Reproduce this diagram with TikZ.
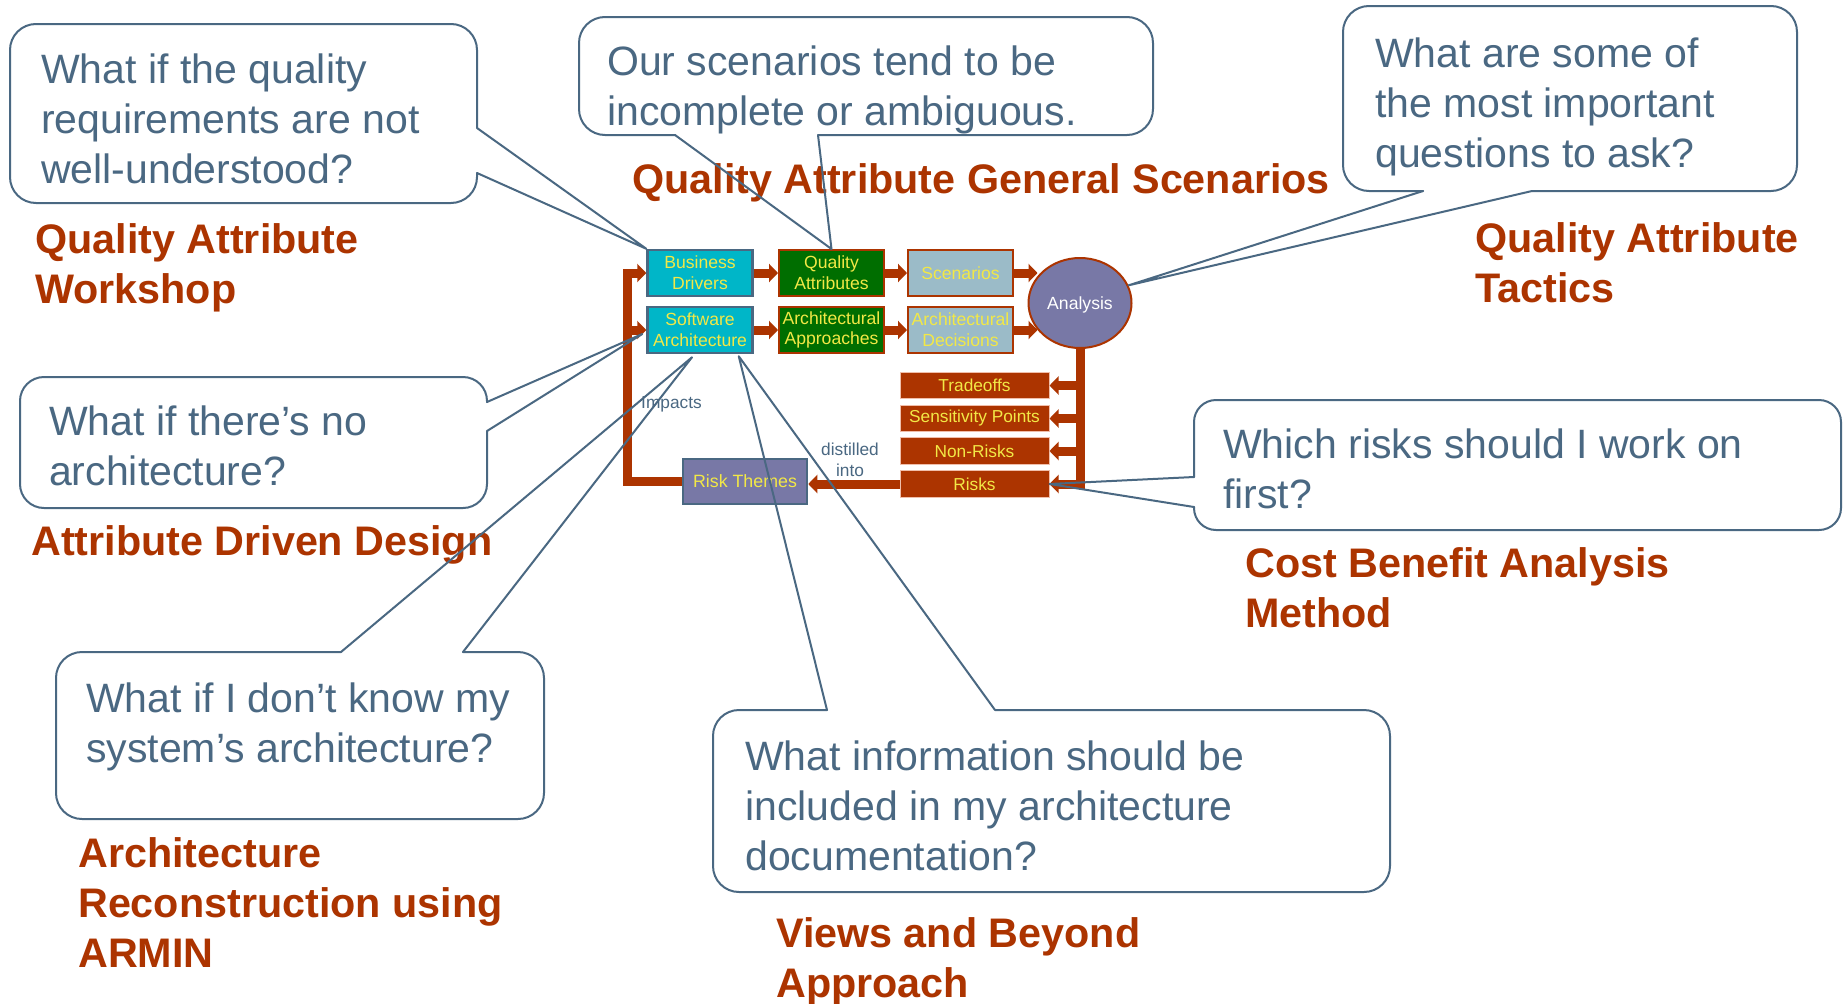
\documentclass[tikz,border=0pt]{standalone}
\usepackage{fontspec}
\setmainfont{Liberation Sans}
\usetikzlibrary{arrows.meta,shapes.geometric,calc}
\definecolor{rust}{RGB}{172,52,0}
\definecolor{cgray}{RGB}{74,104,130}
\definecolor{ccyan}{RGB}{0,182,200}
\definecolor{cgreen}{RGB}{0,110,0}
\definecolor{cpale}{RGB}{155,187,200}
\definecolor{cpurple}{RGB}{120,120,166}
\definecolor{cyel}{RGB}{242,232,70}
\definecolor{cpink}{RGB}{240,190,170}
\tikzset{
  callout/.style={draw=cgray, line width=2pt, line join=round, line cap=round},
  bubblebody/.style={callout, rounded corners=#1},
  bubblebody/.default=26pt,
  qtext/.style={anchor=base west, align=left, inner sep=0pt, text=cgray, font=\fontsize{41}{50}\selectfont},
  ttext/.style={anchor=base west, align=left, inner sep=0pt, text=rust, font=\bfseries\fontsize{41.3}{50}\selectfont},
  boxbase/.style={rectangle, inner sep=0pt, align=center, text=cyel, font=\fontsize{17.6}{20.7}\selectfont, minimum width=105pt, minimum height=46pt},
  bluebox/.style={boxbase, fill=ccyan, draw=cgray, line width=2.5pt},
  greenbox/.style={boxbase, fill=cgreen, draw=rust, line width=2pt},
  palebox/.style={boxbase, fill=cpale, draw=rust, line width=2pt},
  redbox/.style={boxbase, fill=rust, draw=cpink, line width=1pt, minimum width=149pt, minimum height=26.5pt, font=\fontsize{17.3}{20}\selectfont},
  themebox/.style={boxbase, fill=cpurple, draw=cgray, line width=2.5pt, minimum width=124pt, minimum height=45pt, font=\fontsize{17.8}{20}\selectfont},
  bigarrow/.style={draw=rust, line width=9pt, -{Triangle[width=18pt,length=9pt]}},
  smalllabel/.style={inner sep=0pt, text=cgray, font=\fontsize{17.3}{21}\selectfont, align=center}
}
\begin{document}
\begin{tikzpicture}[x=1pt,y=-1pt]
\useasboundingbox (0,0) rectangle (1845,1004);
\fill[white] (0,0) rectangle (1845,1004);

% ---------- central diagram ----------
\node[bluebox]  (bd) at (700,273)   {Business\\Drivers};
\node[bluebox]  (sa) at (700,330)   {Software\\Architecture};
\node[greenbox] (qa) at (831.5,273) {Quality\\Attributes};
\node[greenbox] (aa) at (831.5,330) {Architectural\\Approaches};
\node[palebox]  (sc) at (960.5,273) {Scenarios};
\node[palebox]  (ad) at (960.5,330) {Architectural\\Decisions};
\node[ellipse, fill=cpurple, draw=rust, line width=2pt, minimum width=103pt, minimum height=90pt, inner sep=0pt, text=white, text height=12.6pt, text depth=0pt, font=\fontsize{17.6}{20}\selectfont] (an) at (1080,303) {Analysis};
\node[redbox] (to) at (974.5,385.5) {Tradeoffs};
\node[redbox] (sp) at (974.5,418.5) {Sensitivity Points};
\node[redbox] (nr) at (974.5,451)   {Non-Risks};
\node[redbox] (ri) at (974.5,484)   {Risks};
\node[themebox] (rt) at (745,481.5) {Risk Themes};
\coordinate (lb) at (627,0);

\draw[bigarrow] (bd.east) -- (qa.west);
\draw[bigarrow] (qa.east) -- (sc.west);
\draw[bigarrow, shorten >=-10pt] (sc.east) -- (sc.east -| an.west);
\draw[bigarrow] (sa.east) -- (aa.west);
\draw[bigarrow] (aa.east) -- (ad.west);
\draw[bigarrow, shorten >=-10pt] (ad.east) -- (ad.east -| an.west);
\draw[bigarrow] (an.south) |- (ri.east);
\draw[bigarrow] (an.south |- to.east) -- (to.east);
\draw[bigarrow] (an.south |- sp.east) -- (sp.east);
\draw[bigarrow] (an.south |- nr.east) -- (nr.east);
\draw[bigarrow] (ri.west) -- (ri.west -| rt.east);
\draw[bigarrow] (rt.west) -- (rt.west -| lb) |- (bd.west);
\draw[bigarrow] (lb |- sa.west) -- (sa.west);

\node[smalllabel, anchor=base west] (imp) at (641,408) {Impacts};
\node[smalllabel, anchor=base] (dist) at (850,476) {distilled\\into};

% ---------- titles (anchor = baseline of last line) ----------
\node[ttext] (tA) at (35,303)   {Quality Attribute\\Workshop};
\node[ttext] (tB) at (632,193)  {Quality Attribute General Scenarios};
\node[ttext] (tC) at (1475,302) {Quality Attribute\\Tactics};
\node[ttext] (tD) at (31,555)   {Attribute Driven Design};
\node[ttext] (tE) at (78,967)   {Architecture\\Reconstruction using\\ARMIN};
\node[ttext] (tF) at (776,997)  {Views and Beyond\\Approach};
\node[ttext] (tG) at (1245,627) {Cost Benefit Analysis\\Method};

% ---------- callout bubbles ----------
% A
\draw[bubblebody] (477,128) -- (477,24) -- (10,24) -- (10,203) -- (477,203) -- (477,173);
\draw[callout] (477,128) -- (bd.north west) -- (477,173);
\node[qtext] (qA) at (41,183) {What if the quality\\requirements are not\\well-understood?};
% B
\draw[bubblebody] (675,135) -- (579,135) -- (579,17) -- (1153,17) -- (1153,135) -- (818,135);
\draw[callout] (675,135) -- (qa.north) -- (818,135);
\node[qtext] (qB) at (607,125) {Our scenarios tend to be\\incomplete or ambiguous.};
% C
\draw[bubblebody] (1423,191) -- (1343,191) -- (1343,6) -- (1797,6) -- (1797,191) -- (1532,191);
\draw[callout] (1423,191) -- (an.20) -- (1532,191);
\node[qtext] (qC) at (1375,167) {What are some of\\the most important\\questions to ask?};
% D
\draw[bubblebody=24pt] (487,402) -- (487,377) -- (20,377) -- (20,508) -- (487,508) -- (487,431);
\draw[callout] (487,402) -- ($(sa.west)+(-4,4)$) -- (487,431);
\node[qtext] (qD) at (49,485) {What if there’s no\\architecture?};
% E
\draw[bubblebody] (341,652) -- (56,652) -- (56,819) -- (544,819) -- (544,652) -- (463,652);
\draw[callout] (341,652) -- ($(sa.south)+(-8,3)$) -- (463,652);
\node[qtext] (qE) at (86,762) {What if I don’t know my\\system’s architecture?};
% F
\draw[bubblebody] (827,710) -- (713,710) -- (713,892) -- (1390,892) -- (1390,710) -- (995,710);
\draw[callout] (827,710) -- ($(sa.south east)+(-15,2)$) -- (995,710);
\node[qtext] (qF) at (745,870) {What information should be\\included in my architecture\\documentation?};
% G
\draw[bubblebody=22pt] (1194,477) -- (1194,400) -- (1841,400) -- (1841,530) -- (1194,530) -- (1194,507);
\draw[callout] (1194,477) -- (ri.east) -- (1194,507);
\node[qtext] (qG) at (1223,508) {Which risks should I work on\\first?};
\end{tikzpicture}
\end{document}
